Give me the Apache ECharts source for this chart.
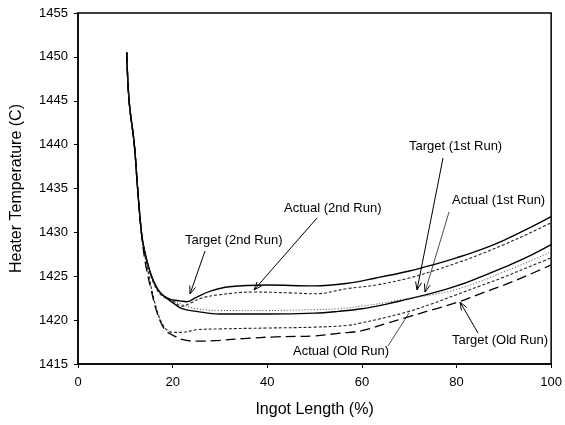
<!DOCTYPE html>
<html>
<head>
<meta charset="utf-8">
<script src="https://cdn.jsdelivr.net/npm/echarts@6/dist/echarts.min.js"></script>
<style>
html,body{margin:0;padding:0;background:#fff;}
#chart{width:565px;height:425px;}
</style>
</head>
<body>
<div id="chart"></div>
<script>
// ---- data ----
var xTicks = [0, 20, 40, 60, 80, 100];
var yTicks = [1415, 1420, 1425, 1430, 1435, 1440, 1445, 1450, 1455];

var t2X = [10.3,10.8,11.9,12.6,13.4,14,15,16,17,18,19,20,21.5,23,25,28,32,40,50,57,63,70,75,80,85,90,95,100];
var t2Y = [1450.5,1445,1440,1435,1430,1428,1425.9,1424.4,1423.4,1422.8,1422.5,1422.3,1422.2,1422.1,1422.6,1423.3,1423.8,1424.0,1423.9,1424.2,1424.8,1425.6,1426.3,1427.1,1428.0,1429.1,1430.4,1431.8];

var a2X = [10.3,10.8,11.9,12.6,13.4,14,15,16,17,18,19,20,22,24,26,30,37,45,50,57,63,70,75,80,85,90,95,100];
var a2Y = [1450.5,1445,1440,1435,1430,1427.9,1425.7,1424.2,1423.2,1422.7,1422.4,1422.2,1421.6,1422.0,1422.5,1422.9,1423.2,1423.1,1423.0,1423.6,1424.0,1424.8,1425.6,1426.5,1427.5,1428.6,1429.8,1431.1];

var t1X = [10.3,10.8,11.9,12.6,13.4,14,15,16,17,18,19,20,22,25,30,40,50,55,60,65,69,75,80,85,90,95,100];
var t1Y = [1450.5,1445,1440,1435,1430,1428.1,1425.9,1424.4,1423.4,1422.8,1422.4,1422.0,1421.3,1421.0,1420.7,1420.7,1420.8,1421.0,1421.3,1421.8,1422.3,1423.1,1423.9,1424.9,1426.0,1427.2,1428.6];

var a1X = [10.3,10.8,11.9,12.6,13.4,14,15,16,17,18,19,20,22,25,30,40,50,55,60,65,70,75,80,85,90,95,100];
var a1Y = [1450.5,1445,1440,1435,1430,1428,1425.8,1424.3,1423.3,1422.8,1422.5,1422.3,1421.8,1421.3,1421.1,1421.1,1421.2,1421.3,1421.6,1422.0,1422.5,1422.9,1423.5,1424.4,1425.5,1426.6,1427.8];

var aoX = [10.3,10.8,11.9,12.6,13.4,14,15,16,17,18,19,20,22,25,30,40,50,57,60,65,70,75,80,85,90,95,100];
var aoY = [1450.5,1445,1440,1435,1430,1427.8,1425,1422.5,1420.6,1419.4,1418.8,1418.6,1418.6,1418.9,1419.0,1419.1,1419.2,1419.4,1419.7,1420.3,1421.0,1421.9,1422.9,1423.9,1424.9,1426.0,1427.1];

var toX = [10.3,10.8,11.9,12.6,13.4,14,14.7,15.4,16.5,17.9,19,20,22,25,30,35,42,50,55,60,65,70,75,80,85,90,95,100];
var toY = [1450.5,1445,1440,1435,1430,1427.3,1425.2,1423.6,1421.2,1419.3,1418.6,1418.3,1417.8,1417.6,1417.7,1417.9,1418.1,1418.2,1418.5,1418.8,1419.6,1420.4,1421.2,1422.0,1423.0,1424.0,1425.1,1426.3];

var labels = ['Target (2nd Run)','Actual (2nd Run)','Target (1st Run)','Actual (1st Run)','Actual (Old Run)','Target (Old Run)'];

function pairs(xs, ys){ return xs.map(function(x,i){ return [x, ys[i]]; }); }

var FONT = '"Liberation Sans", Arial, sans-serif';

function lineSeries(name, xs, ys, type, width, color){
  return {
    name: name, type: 'line', data: pairs(xs, ys),
    showSymbol: false, smooth: 0.4,
    lineStyle: {color: color || '#000', width: width, type: type},
    silent: true, z: 3
  };
}

var chart = echarts.init(document.getElementById('chart'), null, {renderer: 'canvas'});

// annotation layout (pixels)
var ann = [
  {text: labels[0], tx: 185, ty: 242, from: [205, 251], to: [190, 294], head: true, w: 1},
  {text: labels[1], tx: 284, ty: 210, from: [317, 218], to: [254, 290], head: true, w: 1},
  {text: labels[2], tx: 409, ty: 148, from: [443, 158], to: [417, 290], head: true, w: 1},
  {text: labels[3], tx: 452, ty: 202, from: [449, 212], to: [425, 292], head: true, w: 0.7},
  {text: labels[4], tx: 293, ty: 353, from: [388, 346], to: [409, 313], head: false, w: 0.7},
  {text: labels[5], tx: 452, ty: 342, from: [478, 333], to: [460, 302], head: true, w: 1}
];

var graphics = [];
ann.forEach(function(a){
  graphics.push({type: 'text', left: a.tx, top: a.ty - 8, silent: true,
    style: {text: a.text, fill: '#000', font: '13px ' + FONT}});
  graphics.push({type: 'line', silent: true,
    shape: {x1: a.from[0], y1: a.from[1], x2: a.to[0], y2: a.to[1]},
    style: {stroke: '#000', lineWidth: a.w}});
  if (a.head) {
    var dx = a.to[0] - a.from[0], dy = a.to[1] - a.from[1];
    var len = Math.sqrt(dx*dx + dy*dy), ux = dx/len, uy = dy/len;
    var L = 8, W = 3;
    var bx = a.to[0] - ux*L, by = a.to[1] - uy*L;
    graphics.push({type: 'polyline', silent: true,
      shape: {points: [[bx - uy*W, by + ux*W], [a.to[0], a.to[1]], [bx + uy*W, by - ux*W]]},
      style: {stroke: '#000', lineWidth: 1, fill: null}});
  }
});

var option = {
  animation: false,
  backgroundColor: '#fff',
  textStyle: {fontFamily: FONT},
  grid: {left: 78, right: 10, top: 13, bottom: 61, show: true, borderColor: '#000', borderWidth: 1.5, backgroundColor: 'transparent'},
  xAxis: {
    type: 'value', min: xTicks[0], max: xTicks[xTicks.length-1], interval: 20,
    name: 'Ingot Length (%)', nameLocation: 'middle', nameGap: 38,
    nameTextStyle: {fontSize: 16, color: '#000', fontFamily: FONT},
    axisLine: {show: true, lineStyle: {color: '#000', width: 1.5}},
    axisTick: {show: true, inside: false, length: 4, lineStyle: {color: '#000'}},
    axisLabel: {fontSize: 13, color: '#000', margin: 12, fontFamily: FONT, formatter: function(v){ return String(v); }},
    splitLine: {show: false}
  },
  yAxis: {
    type: 'value', min: yTicks[0], max: yTicks[yTicks.length-1], interval: 5,
    name: 'Heater Temperature (C)', nameLocation: 'middle', nameGap: 53, nameRotate: 90,
    nameTextStyle: {fontSize: 16, color: '#000', fontFamily: FONT},
    axisLine: {show: true, lineStyle: {color: '#000', width: 1.5}},
    axisTick: {show: true, inside: false, length: 4, lineStyle: {color: '#000'}},
    axisLabel: {fontSize: 13, color: '#000', margin: 10, fontFamily: FONT, formatter: function(v){ return String(v); }},
    splitLine: {show: false}
  },
  series: [
    lineSeries(labels[0], t2X, t2Y, 'solid', 1.4),
    lineSeries(labels[1], a2X, a2Y, [3, 2], 1.1, '#222'),
    lineSeries(labels[2], t1X, t1Y, 'solid', 1.4),
    lineSeries(labels[3], a1X, a1Y, [1, 2], 1.0, '#444'),
    lineSeries(labels[4], aoX, aoY, [3, 2], 1.1, '#222'),
    lineSeries(labels[5], toX, toY, [10, 5], 1.3)
  ],
  graphic: graphics
};
chart.setOption(option);
</script>
</body>
</html>
